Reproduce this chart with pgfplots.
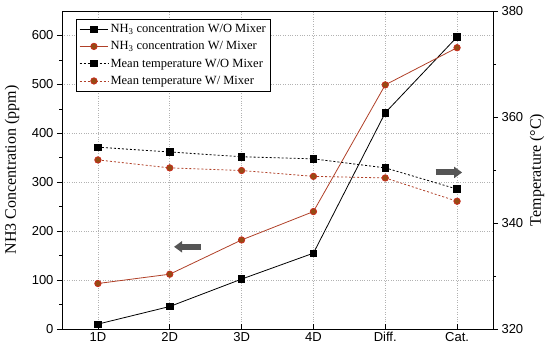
\documentclass[border=0pt]{standalone}
\usepackage{pgfplots}
\pgfplotsset{compat=1.18}
\usepackage{fontspec}
\setmainfont{Liberation Serif}
\newfontfamily\arial{Liberation Sans}
\usetikzlibrary{arrows.meta}
\definecolor{mixline}{RGB}{176,64,40}
\definecolor{mixfill}{RGB}{150,75,20}
\definecolor{mixedge}{RGB}{200,45,30}
\definecolor{arrgray}{RGB}{85,85,85}
\begin{document}
\begin{tikzpicture}
\pgfplotsset{
  common/.style={
    width=431pt, height=318pt, scale only axis,
    xmin=-0.5, xmax=5.5,
    /pgf/number format/assume math mode=true,
    ticklabel style={font=\arial\fontsize{13}{13}\selectfont},
    label style={font=\fontsize{16}{16}\selectfont},
    tick style={black, line width=0.6pt},
    major tick length=5pt, minor tick length=3pt,
  }
}
\begin{axis}[common,
  ymin=0, ymax=650,
  ytick={0,100,200,300,400,500,600},
  minor ytick={50,150,250,350,450,550},
  xtick={0,1,2,3,4,5},
  xticklabels={1D,2D,3D,4D,Diff.,Cat.},
  xtick pos=bottom, ytick pos=left,
  xtick align=inside, ytick align=outside,
  xmajorgrids, ymajorgrids,
  grid style={gray!60, dotted, line width=0.6pt},
  axis line style={line width=0.8pt},
  ylabel={NH3 Concentration (ppm)},
  ylabel style={at={(axis description cs:-0.116,0.5)}, anchor=center, rotate=0},
]
\addplot[black, line width=0.8pt, mark=square*, mark size=3.2pt, mark options={solid, fill=black}]
  coordinates {(0,10) (1,46) (2,102) (3,155) (4,442) (5,597)};
\addplot[mixline, line width=0.8pt, mark=*, mark size=3.2pt, mark options={solid, fill=mixfill, draw=mixedge}]
  coordinates {(0,93) (1,112) (2,182) (3,240) (4,499) (5,575)};
\draw[arrgray, line width=6pt, -{Triangle[length=8pt,width=11pt]}] (axis cs:1.43,168) -- (axis cs:1.06,168);
\draw[arrgray, line width=6pt, -{Triangle[length=8pt,width=11pt]}] (axis cs:4.70,320) -- (axis cs:5.07,320);
\end{axis}
\begin{axis}[common,
  ymin=320, ymax=380,
  ytick={320,340,360,380},
  minor ytick={330,350,370},
  axis y line*=right, axis x line=none,
  ytick align=outside,
  axis line style={line width=0.8pt},
  ylabel={Temperature (°C)},
  ylabel style={at={(axis description cs:1.102,0.5)}, anchor=center, rotate=0},
  legend style={at={(axis description cs:0.0325,0.975)}, anchor=north west,
    font=\fontsize{12.5}{12.5}\selectfont, draw=black, line width=0.6pt,
    row sep=3.5pt, inner sep=3pt, cells={anchor=west}},
  legend cell align=left,
  legend image code/.code={
    \draw[mark repeat=2,mark phase=2,#1] plot coordinates {(0cm,0cm) (0.5cm,0cm) (1.0cm,0cm)};
  },
]
\addlegendimage{black, line width=0.8pt, mark=square*, mark size=3.2pt, mark options={solid, fill=black}}
\addlegendentry{NH\textsubscript{3} concentration W/O Mixer}
\addlegendimage{mixline, line width=0.8pt, mark=*, mark size=3.2pt, mark options={solid, fill=mixfill, draw=mixedge}}
\addlegendentry{NH\textsubscript{3} concentration W/ Mixer}
\addplot[black, line width=0.8pt, dash pattern=on 2pt off 2pt, mark=square*, mark size=3.2pt, mark options={solid, fill=black}]
  coordinates {(0,354.3) (1,353.4) (2,352.5) (3,352.1) (4,350.4) (5,346.4)};
\addlegendentry{Mean temperature W/O Mixer}
\addplot[mixline, line width=0.8pt, dash pattern=on 2pt off 2pt, mark=*, mark size=3.2pt, mark options={solid, fill=mixfill, draw=mixedge}]
  coordinates {(0,351.9) (1,350.4) (2,349.9) (3,348.8) (4,348.5) (5,344.1)};
\addlegendentry{Mean temperature W/ Mixer}
\end{axis}
\path ([xshift=-62pt,yshift=-23pt]current axis.south west) rectangle ([xshift=57pt,yshift=11pt]current axis.north east);
\end{tikzpicture}
\end{document}
